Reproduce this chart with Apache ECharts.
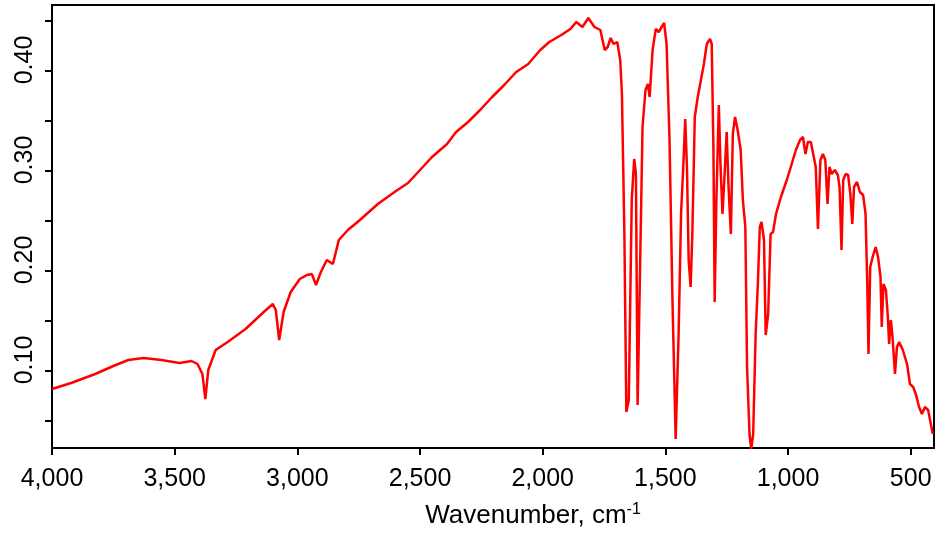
<!DOCTYPE html>
<html>
<head>
<meta charset="utf-8">
<title>IR spectrum</title>
<script src="https://cdn.jsdelivr.net/npm/echarts@6/dist/echarts.min.js"></script>
<style>
  html, body { margin: 0; padding: 0; background: #fff; }
  #myChart { width: 942px; height: 535px; }
</style>
</head>
<body>
<div id="myChart"></div>
<script>
// wavenumber (cm-1)
const wavenumbers = [
    4000, 3922, 3824, 3750, 3689, 3627, 3554, 3480, 3431, 3407, 3387, 3375, 3363, 3333, 3284,
    3211, 3137, 3100, 3088, 3074, 3056, 3027, 2990, 2961, 2941, 2924, 2904, 2880, 2855, 2831,
    2794, 2745, 2672, 2598, 2549, 2500, 2451, 2390, 2353, 2304, 2255, 2206, 2157, 2108, 2059,
    2010, 1973, 1924, 1887, 1863, 1838, 1814, 1789, 1765, 1747, 1735, 1723, 1711, 1696, 1684,
    1677, 1667, 1659, 1649, 1637, 1627, 1620, 1613, 1603, 1593, 1581, 1571, 1564, 1552, 1539,
    1527, 1515, 1505, 1495, 1483, 1471, 1458, 1446, 1436, 1427, 1419, 1412, 1405, 1397, 1390,
    1380, 1368, 1355, 1343, 1331, 1318, 1311, 1304, 1299, 1292, 1282, 1275, 1267, 1257, 1250,
    1243, 1233, 1225, 1216, 1206, 1193, 1184, 1174, 1167, 1157, 1150, 1142, 1132, 1123, 1115,
    1108, 1098, 1091, 1081, 1071, 1061, 1049, 1029, 1005, 985, 968, 951, 939, 929, 919,
    907, 895, 887, 878, 868, 858, 848, 839, 831, 822, 809, 797, 790, 782, 775,
    765, 755, 746, 738, 731, 719, 707, 694, 684, 677, 672, 665, 655, 643, 633,
    623, 618, 611, 601, 593, 588, 581, 574, 564, 556, 547, 532, 515, 503, 490,
    478, 466, 454, 442, 429, 410
]
// absorbance
const absorbance = [
    0.082, 0.088, 0.097, 0.105, 0.111, 0.113, 0.111, 0.108, 0.110, 0.107, 0.097, 0.072, 0.101, 0.121, 0.129,
    0.142, 0.159, 0.167, 0.161, 0.131, 0.159, 0.179, 0.192, 0.196, 0.197, 0.186, 0.199, 0.211, 0.207, 0.231,
    0.241, 0.251, 0.267, 0.280, 0.288, 0.301, 0.314, 0.327, 0.339, 0.349, 0.361, 0.374, 0.386, 0.399, 0.407,
    0.421, 0.429, 0.436, 0.442, 0.449, 0.444, 0.453, 0.444, 0.441, 0.421, 0.424, 0.433, 0.427, 0.429, 0.411,
    0.377, 0.237, 0.059, 0.071, 0.271, 0.312, 0.297, 0.066, 0.204, 0.344, 0.381, 0.387, 0.374, 0.421, 0.442,
    0.439, 0.444, 0.448, 0.427, 0.331, 0.171, 0.032, 0.137, 0.257, 0.304, 0.352, 0.304, 0.211, 0.184, 0.237,
    0.354, 0.374, 0.391, 0.407, 0.427, 0.432, 0.427, 0.321, 0.169, 0.271, 0.366, 0.304, 0.257, 0.304, 0.339,
    0.287, 0.237, 0.337, 0.354, 0.342, 0.321, 0.271, 0.244, 0.104, 0.037, 0.022, 0.037, 0.137, 0.187, 0.244,
    0.249, 0.231, 0.136, 0.157, 0.237, 0.239, 0.257, 0.274, 0.291, 0.307, 0.321, 0.331, 0.334, 0.317, 0.329,
    0.329, 0.314, 0.304, 0.242, 0.311, 0.317, 0.311, 0.267, 0.304, 0.297, 0.301, 0.296, 0.284, 0.221, 0.291,
    0.297, 0.296, 0.277, 0.247, 0.284, 0.289, 0.279, 0.276, 0.257, 0.187, 0.117, 0.204, 0.214, 0.224, 0.214,
    0.194, 0.144, 0.187, 0.181, 0.154, 0.127, 0.151, 0.134, 0.097, 0.124, 0.129, 0.121, 0.107, 0.087, 0.084,
    0.076, 0.064, 0.057, 0.064, 0.061, 0.037
]
const xTickValues = [4000, 3500, 3000, 2500, 2000, 1500, 1000, 500]
const yTickValues = [0.05, 0.10, 0.15, 0.20, 0.25, 0.30, 0.35, 0.40, 0.45]
const yLabelValues = [0.10, 0.20, 0.30, 0.40]

const xMin = 405 // x轴右端
const xMax = 4000
const yMin = 0.023
const yMax = 0.466

const spectrum = wavenumbers.map(function (w, i) { return [w, absorbance[i]] })

const myChart = echarts.init(document.getElementById('myChart'), null, { renderer: 'canvas' })
const fontName = 'Liberation Sans, Arial, sans-serif'

myChart.setOption({
    animation: false,
    backgroundColor: '#fff',
    grid: {
        left: 52,
        right: 8,
        top: 5,
        bottom: 87,
        show: true, // 画外框
        borderColor: '#000',
        borderWidth: 2,
        containLabel: false,
        outerBoundsMode: 'none'
    },
    xAxis: {
        type: 'value',
        inverse: true,
        min: xMin,
        max: xMax,
        splitLine: { show: false },
        axisLine: { onZero: false, lineStyle: { color: '#000', width: 2 } },
        axisTick: {
            customValues: xTickValues,
            inside: false,
            length: 7,
            lineStyle: { color: '#000', width: 2 }
        },
        axisLabel: {
            customValues: xTickValues,
            margin: 19,
            color: '#000',
            fontSize: 25,
            fontFamily: fontName,
            formatter: function (v) { return v.toLocaleString('en-US') }
        },
        name: 'Wavenumber, cm{sup|-1}',
        nameLocation: 'middle',
        nameGap: 54,
        nameTextStyle: {
            color: '#000',
            fontSize: 26,
            fontFamily: fontName,
            padding: [0, 0, 0, 80],
            rich: {
                sup: { fontSize: 16, fontFamily: fontName, color: '#000', padding: [0, 0, 12, 0] }
            }
        }
    },
    yAxis: {
        type: 'value',
        min: yMin,
        max: yMax,
        splitLine: { show: false },
        axisLine: { onZero: false, lineStyle: { color: '#000', width: 2 } },
        axisTick: {
            customValues: yTickValues,
            inside: false,
            length: 7,
            lineStyle: { color: '#000', width: 2 }
        },
        axisLabel: {
            customValues: yLabelValues,
            rotate: 90,
            margin: 14,
            padding: [0, 0, 0, 22], // 标签略微上移
            color: '#000',
            fontSize: 25,
            fontFamily: fontName,
            formatter: function (v) { return v.toFixed(2) }
        }
    },
    series: [
        {
            type: 'line',
            data: spectrum,
            showSymbol: false,
            symbol: 'none',
            smooth: false,
            lineStyle: { color: '#ff0000', width: 2.5 },
            clip: true
        }
    ]
})
</script>
</body>
</html>
